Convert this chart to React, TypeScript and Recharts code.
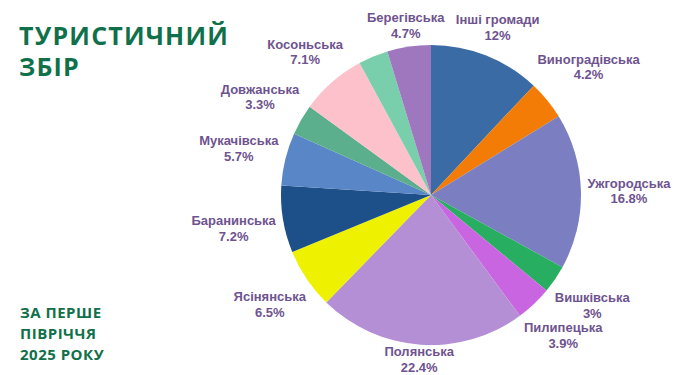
import React from "react";
import { PieChart, Pie, Cell } from "recharts";

const names = [
  "Інші громади",
  "Виноградівська",
  "Ужгородська",
  "Вишківська",
  "Пилипецька",
  "Полянська",
  "Ясінянська",
  "Баранинська",
  "Мукачівська",
  "Довжанська",
  "Косоньська",
  "",
  "Берегівська",
];
const values = [12, 4.2, 16.8, 3, 3.9, 22.4, 6.5, 7.2, 5.7, 3.3, 7.1, 3.2, 4.7];
const valueLabels = ["12%", "4.2%", "16.8%", "3%", "3.9%", "22.4%", "6.5%", "7.2%", "5.7%", "3.3%", "7.1%", "", "4.7%"];
const colors = [
  "#3B6BA5",
  "#F27C05",
  "#7B7FC2",
  "#27AE60",
  "#C965E0",
  "#B48FD6",
  "#EEF200",
  "#1D4F89",
  "#5886C6",
  "#5BAF8C",
  "#FDC1CC",
  "#79CFAB",
  "#9E77BE",
];

const data = names.map((n, i) => ({ name: n, value: values[i], text: valueLabels[i] }));

const LABEL_FONT = "bold 13px 'Liberation Sans', Arial, sans-serif";
const LABEL_COLOR = "#6E538F";
const GREEN = "#10704A";

let ctx: CanvasRenderingContext2D | null = null;
function measure(s: string): number {
  if (!ctx) {
    const c = document.createElement("canvas");
    ctx = c.getContext("2d");
  }
  if (ctx) {
    ctx.font = LABEL_FONT;
    return ctx.measureText(s).width;
  }
  return s.length * 7.3;
}

const RAD = Math.PI / 180;

const renderLabel = (props: any) => {
  const { cx, cy, midAngle, outerRadius, index } = props;
  const name = names[index];
  if (!name) return null;
  const txt = valueLabels[index];
  const w = Math.max(measure(name), measure(txt));
  const hw = w / 2 + 1;
  const hh = 15;
  const dx = Math.cos(-midAngle * RAD);
  const dy = Math.sin(-midAngle * RAD);
  const target = outerRadius + 5;
  let t = 0;
  for (t = 0; t < 500; t += 0.5) {
    const ex = Math.max(0, Math.abs(dx * t) - hw);
    const ey = Math.max(0, Math.abs(dy * t) - hh);
    if (Math.sqrt(ex * ex + ey * ey) >= target) break;
  }
  const x = cx + dx * t;
  const y = Math.min(cy + dy * t, 358.5);
  return (
    <g>
      <text
        x={x}
        y={y - 7}
        textAnchor="middle"
        dominantBaseline="central"
        fill={LABEL_COLOR}
        style={{ font: LABEL_FONT }}
      >
        {name}
      </text>
      <text
        x={x}
        y={y + 8.5}
        textAnchor="middle"
        dominantBaseline="central"
        fill={LABEL_COLOR}
        style={{ font: LABEL_FONT }}
      >
        {txt}
      </text>
    </g>
  );
};

export default function App() {
  return (
    <div
      style={{
        position: "absolute",
        left: 0,
        top: 0,
        width: 700,
        height: 375,
        background: "#ffffff",
        overflow: "hidden",
      }}
    >
      <div
        style={{
          position: "absolute",
          left: 19,
          top: 20,
          fontFamily: "'Open Sans', sans-serif",
          fontWeight: 700,
          fontSize: 25,
          lineHeight: "31px",
          letterSpacing: 1.2,
          color: GREEN,
        }}
      >
        <div>ТУРИСТИЧНИЙ</div>
        <div>ЗБІР</div>
      </div>
      <div
        style={{
          position: "absolute",
          left: 20,
          top: 302,
          fontFamily: "'Open Sans', sans-serif",
          fontWeight: 700,
          fontSize: 15,
          lineHeight: "21px",
          letterSpacing: 0.5,
          color: GREEN,
        }}
      >
        <div>ЗА ПЕРШЕ</div>
        <div>ПІВРІЧЧЯ</div>
        <div>2025 РОКУ</div>
      </div>
      <div style={{ position: "absolute", left: 0, top: 0 }}>
        <PieChart width={700} height={375} margin={{ top: 0, right: 0, bottom: 0, left: 0 }}>
          <Pie
            data={data}
            dataKey="value"
            nameKey="name"
            cx={431}
            cy={195}
            outerRadius={150}
            startAngle={90}
            endAngle={-270}
            stroke="none"
            label={renderLabel}
            labelLine={false}
            isAnimationActive={false}
          >
            {data.map((d, i) => (
              <Cell key={i} fill={colors[i]} />
            ))}
          </Pie>
        </PieChart>
      </div>
    </div>
  );
}
